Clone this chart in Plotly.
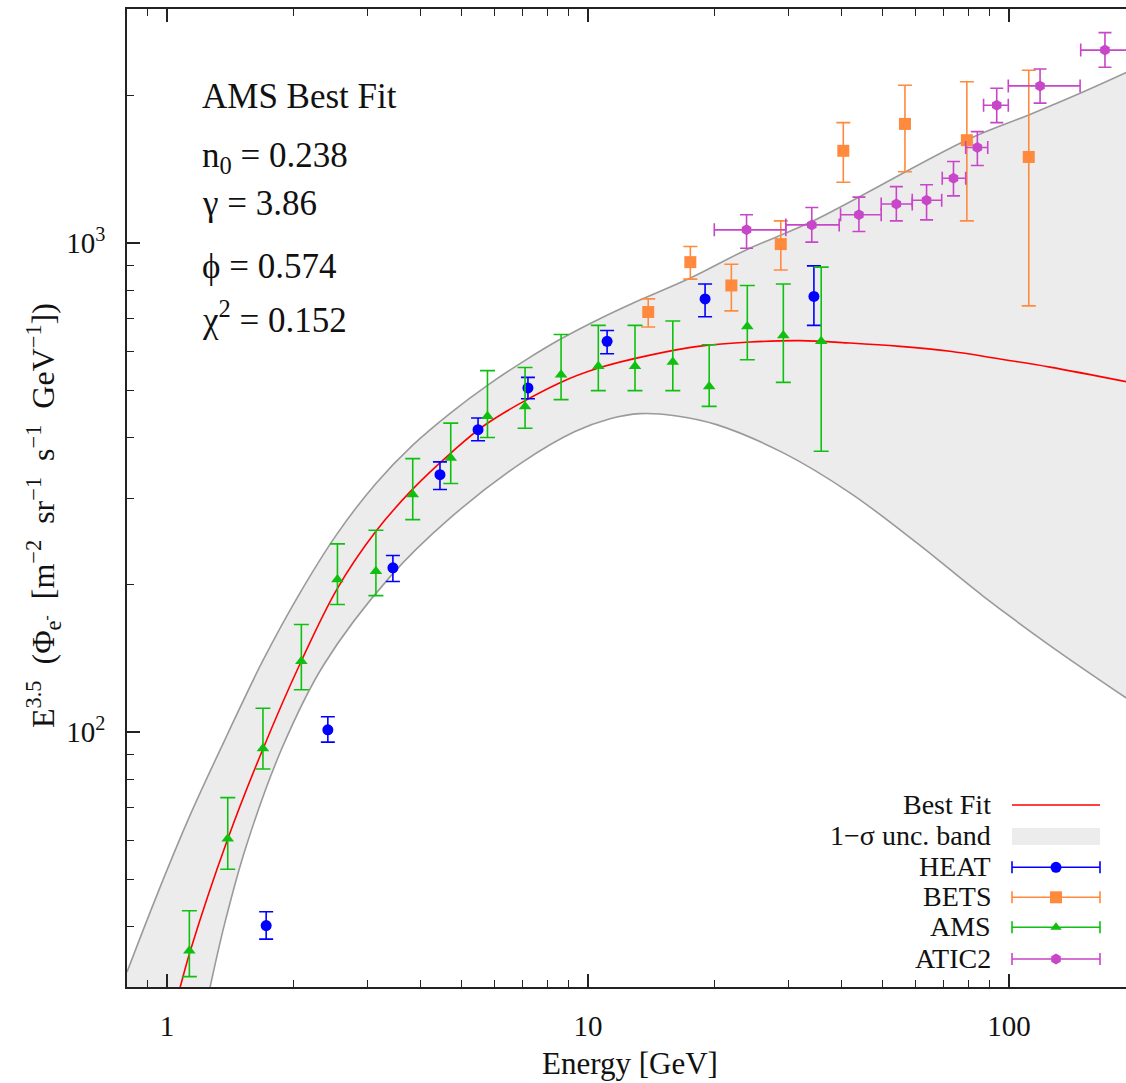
import math
import plotly.graph_objects as go

# ---------------- data ----------------
# Best-fit curve (red)
fit_x = [1.046, 1.075, 1.136, 1.394, 1.69, 2.073, 2.54, 3.125, 3.813, 4.70, 5.745, 8.58,
         10.68, 14.04, 18.45, 24.26, 31.9, 41.9, 55.1, 72.4, 95.2, 125.1, 190]
fit_y = [27.6, 30.1, 35.7, 60.4, 92.3, 138.2, 196.6, 256.3, 312.1, 370.3, 426.6, 517.4,
         555.7, 589.4, 614.8, 626.8, 630.9, 623.8, 614, 600, 578.6, 557, 520]

# 1-sigma band edges
upper_x = [0.8035, 0.952, 1.134, 1.391, 1.69, 2.07, 2.54, 3.135, 3.834, 4.72, 5.77, 7.09,
           8.63, 10.58, 12.81, 17.5, 23.8, 34.0, 79.4, 111.4, 147.5, 190]
upper_y = [32.3, 47.0, 67.5, 98.8, 140.0, 192.5, 254.7, 322.1, 385.9, 449.3, 511.3, 575.0,
           636.4, 697.2, 753.4, 847, 968, 1105, 1623, 1826, 2022, 2230]
lower_x = [1.231, 1.265, 1.373, 1.540, 1.876, 2.353, 3.385, 4.70, 7.02, 9.31, 11.28, 13.29,
           16.09, 20.2, 29.1, 41.9, 60.4, 86.9, 125.1, 190]
lower_y = [26.7, 30.0, 40.8, 58.2, 92.7, 136.9, 207.5, 273.6, 356.9, 411.2, 436.9, 447.4,
           443.2, 424.9, 372, 308.2, 243.5, 189.4, 150.2, 117.3]

# HEAT
heat_x = [1.72, 2.41, 3.44, 4.45, 5.48, 7.2, 11.1, 18.97, 34.4]
heat_y = [40.2, 101, 216.5, 335.7, 415, 505, 628.8, 768, 777]
heat_hi = [42.9, 107.4, 229.4, 356.5, 438.5, 530.7, 662, 824, 897]
heat_lo = [37.7, 95.3, 203, 313, 393.9, 480, 593, 706, 678]

# BETS
bets_x = [13.9, 17.5, 21.9, 28.7, 40.4, 56.6, 79.4, 111.4]
bets_y = [722, 913, 818, 994, 1542, 1750, 1621, 1498]
bets_hi = [768, 983, 904, 1109, 1761, 2099, 2134, 2253]
bets_lo = [673, 843, 726, 880, 1330, 1397, 1109, 743]

# AMS
ams_x = [1.13, 1.394, 1.69, 2.085, 2.54, 3.135, 3.834, 4.72, 5.77, 7.087, 8.63, 10.58,
         12.93, 15.9, 19.4, 23.9, 29.1, 35.8]
ams_y = [35.7, 60.5, 92.5, 139.5, 205, 213, 305.7, 363.3, 441.8, 463, 537.4, 559,
         559, 570.6, 508.7, 674.5, 646.5, 628.8]
ams_hi = [43.1, 73.4, 111.8, 165.8, 242.4, 258.4, 362, 428, 548, 556, 649.6, 678,
          678, 692, 618.9, 818, 824, 892]
ams_lo = [31.6, 52.4, 84, 122, 182.2, 190, 271.7, 322, 400, 417.6, 478, 498.6,
          498.6, 498.6, 463, 576.6, 518.4, 374.8]

# ATIC2
atic_x = [23.8, 34.0, 44.0, 54.0, 63.7, 73.8, 84.1, 93.5, 118.5, 169]
atic_y = [1063, 1088, 1141, 1200, 1222, 1355, 1566, 1911, 2093, 2477]
atic_xlo = [19.95, 29.5, 39.8, 49.7, 58.9, 69.4, 78.9, 87.0, 99.6, 148]
atic_xhi = [29.5, 39.5, 49.7, 58.9, 69.2, 78.9, 89.0, 99.6, 147.5, 195]
atic_hi = [1141, 1181, 1240, 1303, 1314, 1466, 1688, 2070, 2267, 2690]
atic_lo = [975, 1003, 1055, 1109, 1114, 1247, 1439, 1761, 1930, 2285]

x_tick_vals = [1, 10, 100]
x_tick_text = ["1", "10", "100"]
y_tick_vals = [100, 1000]
y_tick_text = ["10<sup>2</sup>", "10<sup>3</sup>"]

fit_params = ["AMS Best Fit", "n<sub>0</sub> = 0.238", "γ = 3.86", "ϕ = 0.574",
              "χ<sup>2</sup> = 0.152"]
legend_labels = ["Best Fit", "1−σ unc. band", "HEAT", "BETS", "AMS", "ATIC2"]

# ---------------- style ----------------
FONT = "Liberation Serif"
C_HEAT = "#0000ff"
C_BETS = "#ff8a3d"
C_AMS = "#10c010"
C_ATIC = "#c846c8"
C_FIT = "#ff0000"
C_BAND = "#ececec"
C_EDGE = "#9a9a9a"
AX = "#222222"
TXT = "#111111"


def diff(a, b):
    return [u - v for u, v in zip(a, b)]


fig = go.Figure()

# band fill: base (lower edge, extended along the bottom) + upper edge with tonexty
fig.add_trace(go.Scatter(x=[upper_x[0]] + lower_x, y=[lower_y[0]] + lower_y,
                         mode="lines", line=dict(width=0, shape="spline"),
                         hoverinfo="skip", showlegend=False))
fig.add_trace(go.Scatter(x=upper_x, y=upper_y, mode="lines", fill="tonexty",
                         fillcolor=C_BAND, line=dict(width=0, shape="spline"),
                         hoverinfo="skip", showlegend=False))
fig.add_trace(go.Scatter(x=upper_x, y=upper_y, mode="lines",
                         line=dict(color=C_EDGE, width=1.6, shape="spline"),
                         showlegend=False))
fig.add_trace(go.Scatter(x=lower_x, y=lower_y, mode="lines",
                         line=dict(color=C_EDGE, width=1.6, shape="spline"),
                         showlegend=False))
fig.add_trace(go.Scatter(x=fit_x, y=fit_y, mode="lines",
                         line=dict(color=C_FIT, width=1.6, shape="spline"),
                         showlegend=False))

# data sets
fig.add_trace(go.Scatter(
    x=heat_x, y=heat_y, mode="markers",
    marker=dict(symbol="circle", size=11, color=C_HEAT),
    error_y=dict(type="data", symmetric=False, array=diff(heat_hi, heat_y),
                 arrayminus=diff(heat_y, heat_lo), color=C_HEAT, thickness=1.6, width=7),
    showlegend=False))
fig.add_trace(go.Scatter(
    x=bets_x, y=bets_y, mode="markers",
    marker=dict(symbol="square", size=12, color=C_BETS),
    error_y=dict(type="data", symmetric=False, array=diff(bets_hi, bets_y),
                 arrayminus=diff(bets_y, bets_lo), color=C_BETS, thickness=1.6, width=7),
    showlegend=False))
fig.add_trace(go.Scatter(
    x=ams_x, y=ams_y, mode="markers",
    marker=dict(symbol="triangle-up", size=11, color=C_AMS),
    error_y=dict(type="data", symmetric=False, array=diff(ams_hi, ams_y),
                 arrayminus=diff(ams_y, ams_lo), color=C_AMS, thickness=1.6, width=7.5),
    showlegend=False))
fig.add_trace(go.Scatter(
    x=atic_x, y=atic_y, mode="markers",
    marker=dict(symbol="hexagon", size=11, color=C_ATIC),
    error_y=dict(type="data", symmetric=False, array=diff(atic_hi, atic_y),
                 arrayminus=diff(atic_y, atic_lo), color=C_ATIC, thickness=1.6, width=6.5),
    error_x=dict(type="data", symmetric=False, array=diff(atic_xhi, atic_x),
                 arrayminus=diff(atic_x, atic_xlo), color=C_ATIC, thickness=1.6, width=6.5),
    showlegend=False))

# ---------------- manual legend (symbols on the right of the text) ----------------
L = 127.0
R = 1126.0
T = 9.0
B = 987.0
W = R - L
H = B - T


def px(xp):
    return (xp - L) / W


def py(yp):
    return (B - yp) / H


row_y = [805, 836.5, 867.3, 897.3, 927.3, 959]
samp_x0, samp_x1, samp_xc = 1012, 1100, 1056
text_right = 993

fig.add_shape(type="line", xref="paper", yref="paper",
              x0=px(samp_x0), x1=px(samp_x1), y0=py(row_y[0]), y1=py(row_y[0]),
              line=dict(color=C_FIT, width=1.6))
fig.add_shape(type="rect", xref="paper", yref="paper",
              x0=px(samp_x0), x1=px(samp_x1), y0=py(row_y[1] + 8.5), y1=py(row_y[1] - 8.5),
              fillcolor=C_BAND, line=dict(width=0))

leg_styles = [(C_HEAT, "circle", 11), (C_BETS, "square", 12),
              (C_AMS, "triangle-up", 10), (C_ATIC, "hexagon", 11)]
half = (samp_x1 - samp_x0) / 2.0 / W
for i, (c, sym, sz) in enumerate(leg_styles):
    fig.add_trace(go.Scatter(
        x=[px(samp_xc)], y=[py(row_y[i + 2])], xaxis="x2", yaxis="y2", mode="markers",
        marker=dict(symbol=sym, size=sz, color=c),
        error_x=dict(type="constant", value=half, color=c, thickness=1.6, width=6),
        showlegend=False, hoverinfo="skip"))

annotations = []
for lab, yy in zip(legend_labels, row_y):
    annotations.append(dict(text=lab, xref="paper", yref="paper", x=px(text_right),
                            y=py(yy - 1), xanchor="right", yanchor="middle",
                            showarrow=False, font=dict(family=FONT, size=28, color=TXT)))

param_rows = [97, 157, 204, 266, 318]
for txt, yy in zip(fit_params, param_rows):
    annotations.append(dict(text=txt, xref="paper", yref="paper", x=px(200), y=py(yy),
                            xanchor="left", yanchor="middle", showarrow=False,
                            font=dict(family=FONT, size=35, color=TXT)))

annotations.append(dict(text="Energy [GeV]", xref="paper", yref="paper", x=px(630),
                        y=py(1063), xanchor="center", yanchor="middle", showarrow=False,
                        font=dict(family=FONT, size=31, color=TXT)))
SP = "\u2002"
annotations.append(dict(
    text="E<sup>3.5</sup>" + SP + "(Φ<sub>e<sup>-</sup></sub>" + SP + "[m<sup>−2</sup>" + SP
         + "sr<sup>−1</sup>" + SP + "s<sup>−1</sup>" + SP + "GeV<sup>−1</sup>])",
    xref="paper", yref="paper", x=px(43), y=py(516), xanchor="center", yanchor="middle",
    textangle=-90, showarrow=False, font=dict(family=FONT, size=32, color=TXT)))

x_minor = [m * 10 ** e for e in range(-1, 3) for m in range(2, 10)]
y_minor = [m * 10 ** e for e in range(1, 4) for m in range(2, 10)]

fig.update_layout(
    width=1126, height=1083,
    margin=dict(l=int(L), r=0, t=int(T), b=1083 - int(B)),
    paper_bgcolor="white", plot_bgcolor="white",
    showlegend=False,
    annotations=annotations,
    xaxis=dict(type="log", range=[math.log10(0.8035), math.log10(189.6)],
               showline=True, linecolor=AX, linewidth=1.6, mirror="ticks",
               ticks="inside", ticklen=13, tickwidth=1.5, tickcolor=AX,
               tickvals=x_tick_vals, ticktext=x_tick_text,
               tickfont=dict(family=FONT, size=29, color=TXT),
               ticklabelstandoff=12,
               minor=dict(tickvals=x_minor, ticks="inside", ticklen=7, tickwidth=1.3,
                          tickcolor=AX, showgrid=False),
               showgrid=False, zeroline=False),
    yaxis=dict(type="log", range=[math.log10(30.1), math.log10(3006)],
               showline=True, linecolor=AX, linewidth=1.6, mirror=False,
               ticks="inside", ticklen=13, tickwidth=1.5, tickcolor=AX,
               tickvals=y_tick_vals, ticktext=y_tick_text,
               tickfont=dict(family=FONT, size=29, color=TXT),
               ticklabelstandoff=14,
               minor=dict(tickvals=y_minor, ticks="inside", ticklen=7, tickwidth=1.3,
                          tickcolor=AX, showgrid=False),
               showgrid=False, zeroline=False),
    xaxis2=dict(overlaying="x", anchor="y2", range=[0, 1], visible=False, fixedrange=True),
    yaxis2=dict(overlaying="y", anchor="x2", range=[0, 1], visible=False, fixedrange=True),
)

fig.write_html("out.html",
               config={"displayModeBar": False},
               post_script="document.body.style.margin='0px';"
                           "document.body.style.overflow='hidden';")
